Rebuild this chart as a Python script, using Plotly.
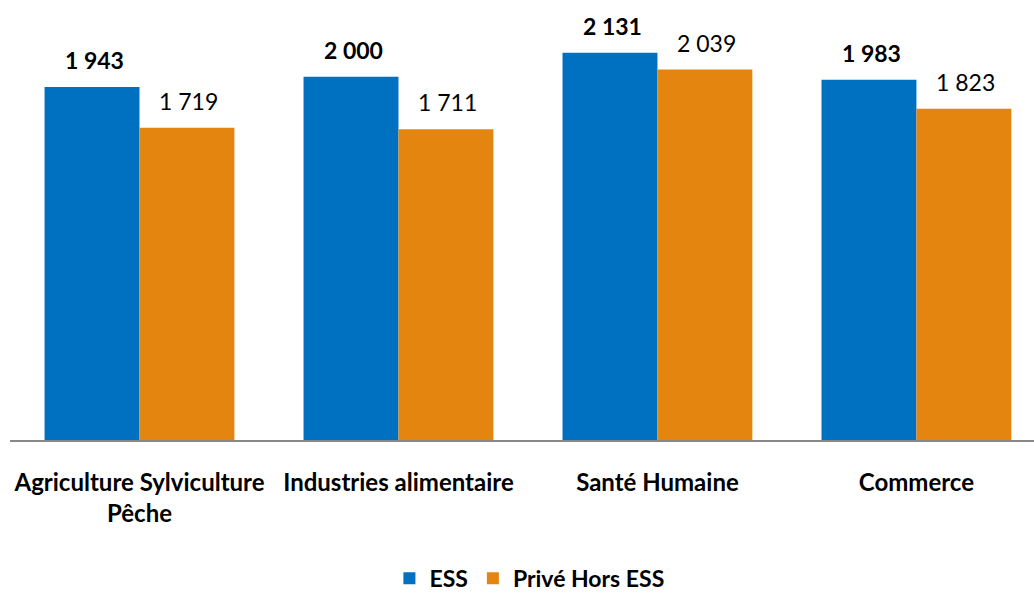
import plotly.graph_objects as go

categories = ["Agriculture Sylviculture<br>Pêche", "Industries alimentaire", "Santé Humaine", "Commerce"]
ess = [1943, 2000, 2131, 1983]
prive = [1719, 1711, 2039, 1823]

BLUE = "#0070C0"
ORANGE = "#E3850F"
FONT = "Lato, Carlito, Calibri, sans-serif"


def fmt(v):
    return f"{v:,}".replace(",", " ")


fig = go.Figure()
fig.add_trace(go.Bar(name="ESS", x=categories, y=ess, marker_color=BLUE,
                     marker_line_width=0))
fig.add_trace(go.Bar(name="Privé Hors ESS", x=categories, y=prive, marker_color=ORANGE,
                     marker_line_width=0))

# value labels above bars
for c, v in zip(categories, ess):
    fig.add_annotation(x=c, y=v, text="<b>" + fmt(v) + "</b>", showarrow=False,
                       xshift=-45, yshift=11, yanchor="bottom",
                       font=dict(size=23, color="#000000", family=FONT))
for c, v in zip(categories, prive):
    fig.add_annotation(x=c, y=v, text=fmt(v), showarrow=False,
                       xshift=49, yshift=11, yanchor="bottom",
                       font=dict(size=23, color="#000000", family=FONT))

fig.update_layout(
    width=1034, height=593,
    margin=dict(l=10, r=0, t=0, b=153),
    plot_bgcolor="white", paper_bgcolor="white",
    barmode="group", bargap=0.267, bargroupgap=0,
    font=dict(family=FONT, size=23, color="#000000"),
    showlegend=True,
    legend=dict(orientation="h", x=0.512, xanchor="center", xref="container",
                y=0.025, yanchor="middle", yref="container",
                font=dict(size=23, family=FONT, weight="bold"),
                traceorder="normal"),
)
fig.update_xaxes(range=[-0.5, 3.454], showline=True, linecolor="#888888", linewidth=2,
                 ticks="", tickfont=dict(size=24, family=FONT, weight="bold"),
                 ticklabelstandoff=20, showgrid=False, automargin=False)
fig.update_yaxes(range=[0, 2422], visible=False, showgrid=False, automargin=False)

fig.write_html("out.html", config={"displayModeBar": False},
               post_script="document.body.style.margin='0px';")
